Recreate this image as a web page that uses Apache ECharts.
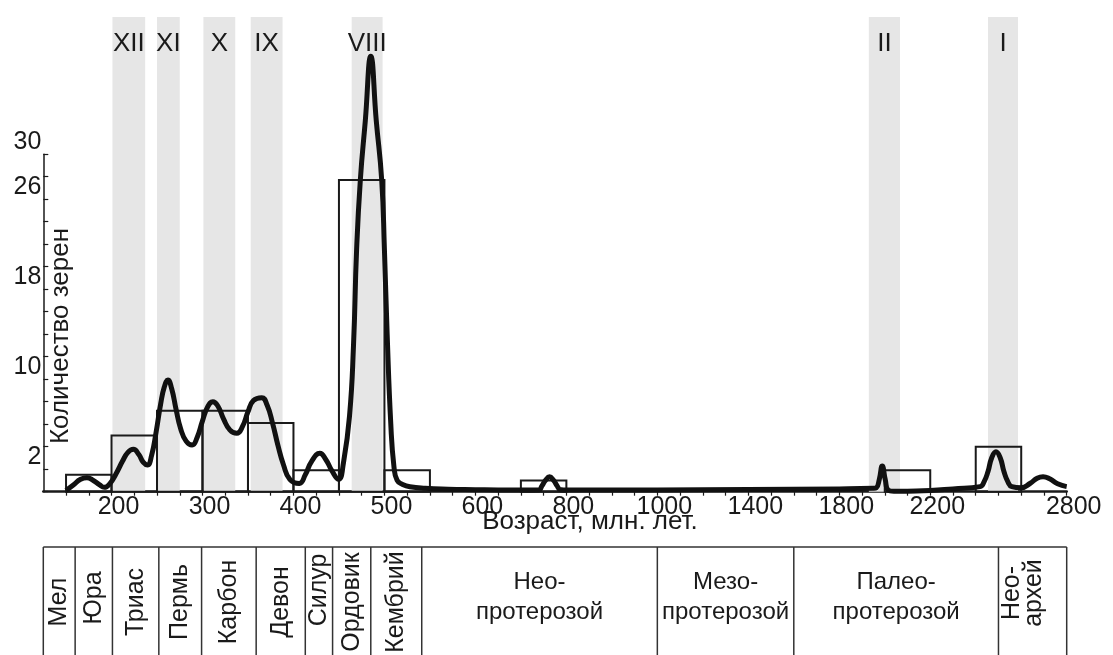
<!DOCTYPE html>
<html>
<head>
<meta charset="utf-8">
<script src="https://cdn.jsdelivr.net/npm/echarts@6/dist/echarts.min.js"></script>
<style>
  html, body { margin: 0; padding: 0; background: #fff; }
  #chart { width: 1113px; height: 655px; }
</style>
</head>
<body>
<div id="chart"></div>
<script>
// ages in Ma
const bandNames = ['XII', 'XI', 'X', 'IX', 'VIII', 'II', 'I'];
const bandFrom = [201, 250, 301, 353, 464, 1930, 2454];
const bandTo = [237, 275, 336, 388, 498, 2067, 2586];

// histogram bins
const binFrom = [150, 200, 250, 300, 350, 400, 450, 500, 700, 2000, 2400];
const binTo = [200, 250, 300, 350, 400, 450, 500, 550, 800, 2200, 2600];
const binCount = [1.5, 5, 7.2, 7.2, 6.1, 1.9, 27.7, 1.9, 1.0, 1.9, 4.0];

// density curve
const curveAge = [150, 158, 166, 173, 180, 187, 192, 198, 205, 212, 218, 224, 230, 235, 239.5,
  244, 249, 254, 258, 262, 266, 271, 276, 282, 288.6, 294, 300, 306, 311.4, 317, 323, 330, 337.7,
  344, 350, 356, 365.2, 371, 377, 383, 389, 396, 406.4, 413, 420, 429, 436, 442, 449.6,
  455, 461.6, 466, 469.4, 473.5, 479, 485, 491, 497, 500, 503, 507, 510.5, 514, 520, 528,
  545, 570, 600, 650, 700, 740, 746, 754, 763, 772, 780, 786, 800, 1000, 1400, 1800, 1950,
  1963, 1976, 1989, 2002, 2015, 2040, 2100, 2200, 2300, 2419, 2437, 2454, 2470, 2489, 2508,
  2524, 2541, 2559, 2600, 2640, 2670, 2696, 2725, 2760, 2800];
const curveValue = [0.1, 0.6, 1.1, 1.24, 1.0, 0.6, 0.39, 0.7, 1.6, 2.7, 3.5, 3.77, 3.3, 2.6, 2.37,
  3.2, 5.3, 7.8, 9.3, 9.93, 9.2, 7.3, 5.6, 4.5, 4.15, 4.8, 6.3, 7.6, 8.0, 7.6, 6.5, 5.5, 5.19,
  5.8, 7.1, 8.1, 8.36, 7.7, 6.1, 4.1, 2.4, 1.1, 0.74, 1.5, 2.7, 3.41, 2.8, 1.9, 1.1,
  2.6, 6.7, 13, 21.5, 27.7, 33, 38.7, 33, 27.7, 21.5, 14, 6, 2.2, 1.0, 0.65, 0.44,
  0.3, 0.22, 0.18, 0.15, 0.15, 0.18, 0.5, 1.0, 1.33, 1.0, 0.5, 0.2, 0.15, 0.15, 0.2, 0.25, 0.3,
  0.35, 1.1, 2.28, 1.1, 0.15, 0.03, 0.05, 0.1, 0.25, 0.45, 0.9, 1.8, 3.0, 3.56, 3.0,
  1.8, 0.9, 0.45, 0.35, 0.75, 1.2, 1.33, 1.15, 0.7, 0.45];

const xLabels = [200, 300, 400, 500, 600, 800, 1000, 1400, 1800, 2200, 2800];
const yLabels = [2, 10, 18, 26, 30];

const periods = ['Мел', 'Юра', 'Триас', 'Пермь', 'Карбон', 'Девон', 'Силур', 'Ордовик', 'Кембрий',
  'Нео-\nпротерозой', 'Мезо-\nпротерозой', 'Палео-\nпротерозой', 'Нео-\nархей'];
const periodEdges = [125, 160, 201, 252, 299, 359, 413, 443, 485, 541, 1000, 1600, 2500, 2800];

// broken axis: full scale to 600 Ma, half to 1000, quarter beyond
function toU(age) {
  if (age <= 600) return age;
  if (age <= 1000) return 600 + (age - 600) / 2;
  return 800 + (age - 1000) / 4;
}
function toAge(u) {
  if (u <= 600) return u;
  if (u <= 800) return 600 + (u - 600) * 2;
  return 1000 + (u - 800) * 4;
}

const FONT = '"Liberation Sans", Arial, sans-serif';
const INK = '#1a1a1a';

const chart = echarts.init(document.getElementById('chart'));

const option = {
  animation: false,
  backgroundColor: '#fff',
  textStyle: { fontFamily: FONT },
  grid: [
    { left: 43.3, right: 46.3, top: 17, bottom: 163.3 },
    { left: 43.3, right: 46.3, top: 154.2, bottom: 163.3 }
  ],
  xAxis: [{
    gridIndex: 0,
    type: 'value',
    min: 125,
    max: 1250,
    interval: 25,
    splitLine: { show: false },
    axisLine: { lineStyle: { color: INK, width: 2.5 } },
    axisTick: { length: 4, lineStyle: { color: INK, width: 1.2 } },
    axisLabel: {
      color: INK,
      fontSize: 25,
      margin: 3,
      padding: [0, 0, 0, 14],
      showMinLabel: false,
      showMaxLabel: true,
      formatter: function (v) {
        const a = Math.round(toAge(v));
        return xLabels.indexOf(a) >= 0 ? String(a) : '';
      }
    }
  }, {
    gridIndex: 1,
    type: 'value',
    min: 125,
    max: 1250,
    show: false
  }],
  yAxis: [{
    gridIndex: 0,
    type: 'value',
    min: 0,
    max: 42.2,
    show: false
  }, {
    gridIndex: 1,
    type: 'value',
    min: 0,
    max: 30,
    interval: 2,
    splitLine: { show: false },
    axisLine: { show: true, lineStyle: { color: INK, width: 1.5 } },
    axisTick: { show: true, inside: true, length: 5, lineStyle: { color: INK, width: 1.2 } },
    axisLabel: {
      color: INK,
      fontSize: 25,
      margin: 2,
      verticalAlign: 'bottom',
      lineHeight: 24,
      formatter: function (v) {
        return yLabels.indexOf(v) >= 0 ? String(v) : '';
      }
    }
  }],
  series: [{
    // grey age bands
    type: 'line',
    xAxisIndex: 0,
    yAxisIndex: 0,
    data: [],
    z: 1,
    markArea: {
      silent: true,
      itemStyle: { color: '#e6e6e6' },
      label: {
        show: true,
        position: 'insideTop',
        distance: 14,
        color: INK,
        fontSize: 26,
        fontFamily: FONT
      },
      data: bandNames.map((n, i) => [{ name: n, xAxis: toU(bandFrom[i]) }, { xAxis: toU(bandTo[i]) }])
    }
  }, {
    type: 'custom',
    xAxisIndex: 0,
    yAxisIndex: 0,
    z: 3,
    data: binCount.map((c, i) => [toU(binFrom[i]), toU(binTo[i]), c]),
    encode: { x: [0, 1], y: 2 },
    renderItem: function (params, api) {
      const p0 = api.coord([api.value(0), api.value(2)]);
      const p1 = api.coord([api.value(1), 0]);
      return {
        type: 'rect',
        shape: { x: p0[0], y: p0[1], width: p1[0] - p0[0], height: p1[1] - p0[1] },
        style: { fill: 'none', stroke: INK, lineWidth: 2 }
      };
    }
  }, {
    type: 'line',
    xAxisIndex: 0,
    yAxisIndex: 0,
    z: 4,
    symbol: 'none',
    smooth: 0.5,
    lineStyle: { color: '#111', width: 5, join: 'round' },
    data: curveAge.map((a, i) => [toU(a), curveValue[i]])
  }]
};

chart.setOption(option);

// period table under the axis, columns follow the age scale
const tableTop = 547;
const tableBottom = 655;
const xs = periodEdges.map(a => chart.convertToPixel({ xAxisIndex: 0 }, toU(a)));
const gfx = [];
const lineStyle = { stroke: '#333', lineWidth: 1.5 };

gfx.push({ type: 'line', shape: { x1: xs[0], y1: tableTop, x2: xs[xs.length - 1], y2: tableTop }, style: lineStyle });
xs.forEach(x => {
  gfx.push({ type: 'line', shape: { x1: x, y1: tableTop, x2: x, y2: tableBottom }, style: lineStyle });
});

periods.forEach((p, i) => {
  const cx = (xs[i] + xs[i + 1]) / 2;
  const wide = i >= 9 && i <= 11;
  if (wide) {
    gfx.push({
      type: 'text', x: cx, y: 597,
      style: { text: p, fill: INK, font: '24px ' + FONT, align: 'center', verticalAlign: 'middle', lineHeight: 30 }
    });
  } else {
    let cy = 602;
    if (p === 'Юра') cy = 598;
    if (p === 'Силур') cy = 590;
    if (i === 12) cy = 593;
    gfx.push({
      type: 'text', x: i === 12 ? cx - 9 : cx, y: cy, rotation: Math.PI / 2,
      style: { text: p, fill: INK, font: '25px ' + FONT, align: 'center', verticalAlign: 'middle', lineHeight: 22 }
    });
  }
});

gfx.push({
  type: 'text', x: 590, y: 522,
  style: { text: 'Возраст, млн. лет.', fill: INK, font: '26px ' + FONT, align: 'center', verticalAlign: 'middle' }
});
gfx.push({
  type: 'text', x: 61, y: 336, rotation: Math.PI / 2,
  style: { text: 'Количество зерен', fill: INK, font: '26px ' + FONT, align: 'center', verticalAlign: 'middle' }
});

chart.setOption({ graphic: gfx });
</script>
</body>
</html>
